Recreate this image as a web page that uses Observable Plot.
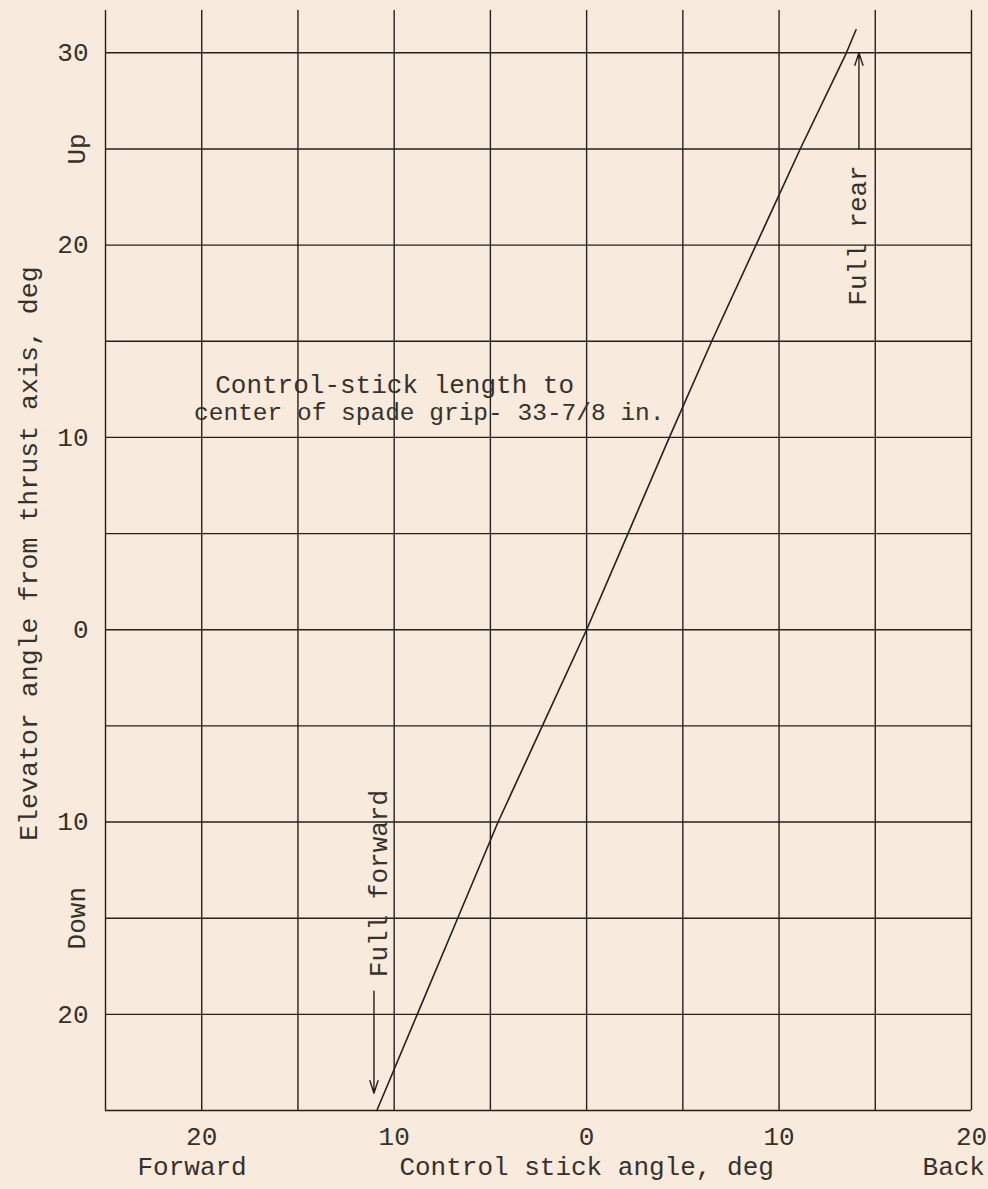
<!DOCTYPE html>
<html>
<head>
<meta charset="utf-8">
<script src="https://cdn.jsdelivr.net/npm/d3@7"></script>
<script src="https://cdn.jsdelivr.net/npm/@observablehq/plot@0.6"></script>
<style>
  html, body { margin: 0; padding: 0; background: #f8eadd; }
  #chart { width: 988px; height: 1189px; overflow: hidden; }
</style>
</head>
<body>
<div id="chart"></div>
<script>
// ---- data ----
const stickAngle    = [-10.9, -8.8, -6.7, -4.6, -2.3, 0, 2.15, 4.3, 6.5, 8.8, 11.1, 13.5, 14.0];
const elevatorAngle = [-25, -20, -15, -10, -5, 0, 5, 10, 15, 20, 25, 30, 31.2];

const xTicks = [-20, -10, 0, 10, 20];
const yTicks = [-20, -10, 0, 10, 20, 30];
const xGrid = [-25, -20, -15, -10, -5, 0, 5, 10, 15, 20];
const yGrid = [-25, -20, -15, -10, -5, 0, 5, 10, 15, 20, 25, 30];

const noteLine1 = "Control-stick length to";
const noteLine2 = "center of spade grip- 33-7/8 in.";

const stopLabels = ["Full rear", "Full forward"];
const stopX = [14.1, -10.8];
const stopY = [20.5, -13.2];
const arrowX = [14.15, -11.05];
const arrowFrom = [25.0, -18.8];
const arrowTo = [30.0, -24.1];

const sideLabels = ["Up", "Down"];
const sideY = [25, -15];
const bottomLabels = ["Forward", "Control stick angle, deg"];
const bottomX = [-20.5, 0];
const backLabel = "Back";
const yTitle = "Elevator angle from thrust axis, deg";

// ---- build ----
const ink = "#25201c";
const textInk = "#37312c";
const yTop = 32.2;

const line = stickAngle.map((x, i) => ({x, y: elevatorAngle[i]}));
const stops = stopLabels.map((t, i) => ({t, x: stopX[i], y: stopY[i]}));
const arrows = arrowX.map((x, i) => ({x, y1: arrowFrom[i], y2: arrowTo[i]}));
const sides = sideLabels.map((t, i) => ({t, y: sideY[i]}));
const bottoms = bottomLabels.map((t, i) => ({t, x: bottomX[i]}));

const chart = Plot.plot({
  width: 988,
  height: 1189,
  marginLeft: 105,
  marginRight: 17,
  marginTop: 10,
  marginBottom: 79,
  x: {domain: [-25, 20]},
  y: {domain: [-25, yTop]},
  style: {
    background: "transparent",
    fontFamily: "'Liberation Mono', 'DejaVu Sans Mono', monospace",
    fontSize: "26px",
    color: textInk
  },
  marks: [
    Plot.ruleX(xGrid, {y1: -25, y2: yTop, stroke: ink, strokeWidth: 1.4}),
    Plot.ruleY(yGrid, {x1: -25, x2: 20, stroke: ink, strokeWidth: 1.4}),
    Plot.axisX(xTicks, {tickSize: 0, tickPadding: 16, tickFormat: d => Math.abs(d), label: null, fill: textInk}),
    Plot.axisY(yTicks, {tickSize: 0, tickPadding: 17, tickFormat: d => Math.abs(d), label: null, fill: textInk}),
    Plot.line(line, {x: "x", y: "y", stroke: ink, strokeWidth: 1.6}),
    Plot.arrow(arrows, {x1: "x", x2: "x", y1: "y1", y2: "y2", stroke: ink, strokeWidth: 1.4, headLength: 14, headAngle: 36}),
    Plot.text([noteLine1], {x: -19.3, y: 12.75, text: d => d, textAnchor: "start", fill: textInk}),
    Plot.text([noteLine2], {x: -20.4, y: 11.3, text: d => d, textAnchor: "start", fontSize: 24.5, fill: textInk}),
    Plot.text(stops, {x: "x", y: "y", text: "t", rotate: -90, fill: textInk}),
    Plot.text(sides, {x: -26.5, y: "y", text: "t", rotate: -90, fill: textInk}),
    Plot.text(bottoms, {x: "x", y: -25, dy: 56, text: "t", fill: textInk}),
    Plot.text([backLabel], {x: 20.7, y: -25, dy: 56, text: d => d, textAnchor: "end", fill: textInk}),
    Plot.text([yTitle], {x: -29.0, y: 3.96, text: d => d, rotate: -90, fontSize: 26.6, fill: textInk})
  ]
});

document.getElementById("chart").appendChild(chart);
</script>
</body>
</html>
